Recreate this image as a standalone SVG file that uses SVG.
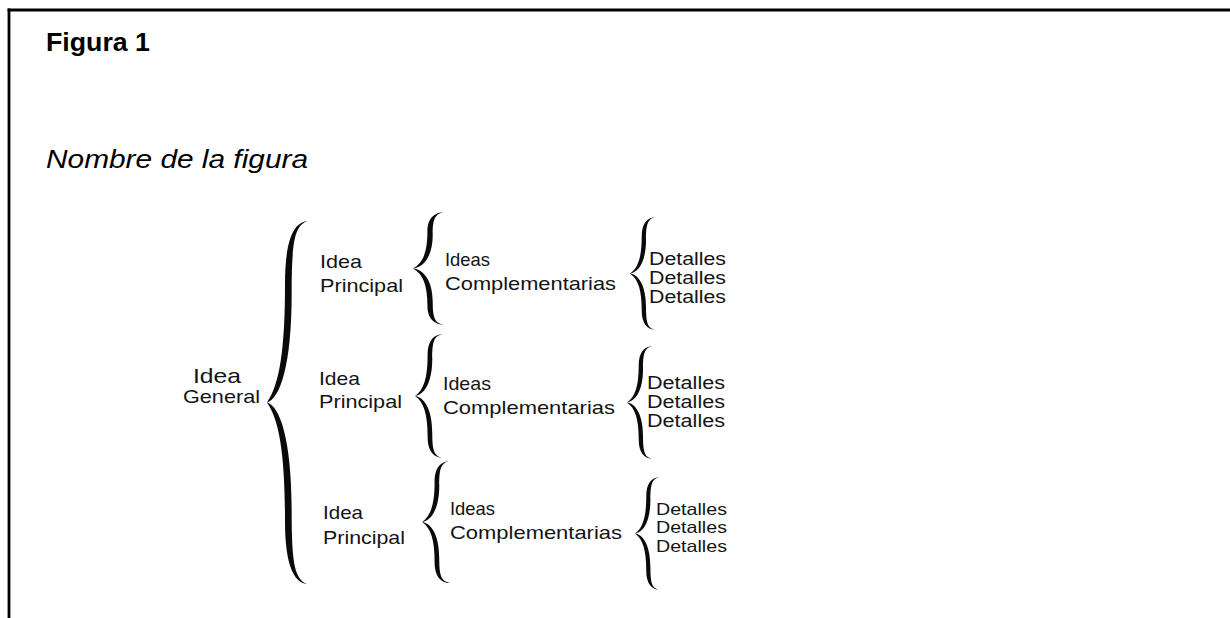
<svg xmlns="http://www.w3.org/2000/svg" xmlns:xlink="http://www.w3.org/1999/xlink" width="1230" height="618" viewBox="0 0 1230 618">
<style>
.t{font-family:"Liberation Sans",Arial,sans-serif;fill:#141414}
.h{font-family:"Liberation Sans",Arial,sans-serif;fill:#000}
.br{fill:#0a0a0a}
.bd{stroke:#000;stroke-width:2.8;fill:none}
</style>
<defs>
<path id="brace" d="M30,0 C20.2,0.5 13.5,5 13.5,17.5 C13.5,35 9.6,45 0,50 C9.6,55 13.5,65 13.5,82.5 C13.5,95 20.2,99.5 30,100 C21,98.5 18.5,95 18.5,80 C18.5,60 9.6,51 0,50 C9.6,49 18.5,40 18.5,20 C18.5,5 21,1.5 30,0 Z"/>
</defs>
<rect width="1230" height="618" fill="#fff"/>
<g id="frame">
<line class="bd" x1="7.6" y1="10" x2="1230" y2="10"/>
<line class="bd" x1="9" y1="8.6" x2="9" y2="618"/>
</g>
<g id="title">
<text class="h" x="46" y="51" font-size="26" font-weight="bold" textLength="104" lengthAdjust="spacingAndGlyphs">Figura 1</text>
<text class="h" x="46" y="168" font-size="26" font-style="italic" textLength="262" lengthAdjust="spacingAndGlyphs">Nombre de la figura</text>
</g>
<g id="connectors">
<use class="br" xlink:href="#brace" href="#brace" transform="translate(267,221) scale(1.333,3.63)"/>
<use class="br" xlink:href="#brace" href="#brace" transform="translate(413,212) scale(1.067,1.13)"/>
<use class="br" xlink:href="#brace" href="#brace" transform="translate(415,334) scale(0.933,1.24)"/>
<use class="br" xlink:href="#brace" href="#brace" transform="translate(422,461) scale(0.933,1.22)"/>
<use class="br" xlink:href="#brace" href="#brace" transform="translate(630,217) scale(0.867,1.13)"/>
<use class="br" xlink:href="#brace" href="#brace" transform="translate(627,346) scale(0.867,1.13)"/>
<use class="br" xlink:href="#brace" href="#brace" transform="translate(635,477) scale(0.833,1.13)"/>
</g>
<g id="node-idea-general">
<text class="t" x="193" y="383" font-size="21" textLength="48" lengthAdjust="spacingAndGlyphs">Idea</text>
<text class="t" x="183" y="403" font-size="19" textLength="77" lengthAdjust="spacingAndGlyphs">General</text>
</g>
<g id="node-principal-1">
<text class="t" x="320" y="268" font-size="19" textLength="42" lengthAdjust="spacingAndGlyphs">Idea</text>
<text class="t" x="320" y="292" font-size="19" textLength="83" lengthAdjust="spacingAndGlyphs">Principal</text>
</g>
<g id="node-principal-2">
<text class="t" x="319" y="385" font-size="19" textLength="41" lengthAdjust="spacingAndGlyphs">Idea</text>
<text class="t" x="319" y="408" font-size="19" textLength="83" lengthAdjust="spacingAndGlyphs">Principal</text>
</g>
<g id="node-principal-3">
<text class="t" x="323" y="519" font-size="19" textLength="40" lengthAdjust="spacingAndGlyphs">Idea</text>
<text class="t" x="323" y="544" font-size="19" textLength="82" lengthAdjust="spacingAndGlyphs">Principal</text>
</g>
<g id="node-complementarias-1">
<text class="t" x="445" y="266" font-size="18.5" textLength="45" lengthAdjust="spacingAndGlyphs">Ideas</text>
<text class="t" x="445" y="290" font-size="18.5" textLength="171" lengthAdjust="spacingAndGlyphs">Complementarias</text>
</g>
<g id="node-complementarias-2">
<text class="t" x="443" y="390" font-size="18.5" textLength="48" lengthAdjust="spacingAndGlyphs">Ideas</text>
<text class="t" x="443" y="414" font-size="18.5" textLength="172" lengthAdjust="spacingAndGlyphs">Complementarias</text>
</g>
<g id="node-complementarias-3">
<text class="t" x="450" y="515" font-size="18.5" textLength="45" lengthAdjust="spacingAndGlyphs">Ideas</text>
<text class="t" x="450" y="539" font-size="18.5" textLength="172" lengthAdjust="spacingAndGlyphs">Complementarias</text>
</g>
<g id="node-detalles-1">
<text class="t" x="649" y="265" font-size="17.5" textLength="77" lengthAdjust="spacingAndGlyphs">Detalles</text>
<text class="t" x="649" y="284" font-size="17.5" textLength="77" lengthAdjust="spacingAndGlyphs">Detalles</text>
<text class="t" x="649" y="303" font-size="17.5" textLength="77" lengthAdjust="spacingAndGlyphs">Detalles</text>
</g>
<g id="node-detalles-2">
<text class="t" x="647" y="389" font-size="17.5" textLength="78" lengthAdjust="spacingAndGlyphs">Detalles</text>
<text class="t" x="647" y="408" font-size="17.5" textLength="78" lengthAdjust="spacingAndGlyphs">Detalles</text>
<text class="t" x="647" y="427" font-size="17.5" textLength="78" lengthAdjust="spacingAndGlyphs">Detalles</text>
</g>
<g id="node-detalles-3">
<text class="t" x="656" y="515" font-size="16.5" textLength="71" lengthAdjust="spacingAndGlyphs">Detalles</text>
<text class="t" x="656" y="533" font-size="16.5" textLength="71" lengthAdjust="spacingAndGlyphs">Detalles</text>
<text class="t" x="656" y="552" font-size="16.5" textLength="71" lengthAdjust="spacingAndGlyphs">Detalles</text>
</g>
</svg>
